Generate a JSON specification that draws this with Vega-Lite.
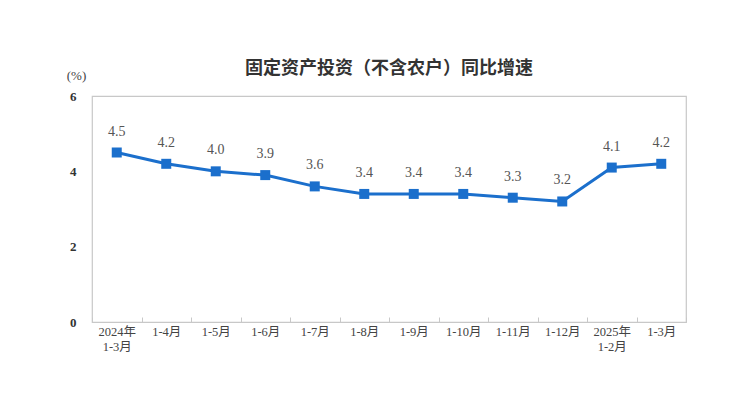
{
  "$schema": "https://vega.github.io/schema/vega-lite/v6.json",
  "autosize": {"type": "none"},
  "width": 594,
  "height": 226,
  "padding": {"left": 92, "top": 96, "right": 61, "bottom": 78},
  "background": "white",
  "config": {
    "view": {"stroke": "#c8c8c8", "strokeWidth": 1.2},
    "font": "Liberation Serif, Noto Sans CJK SC"
  },
  "title": {
    "text": "固定资产投资（不含农户）同比增速",
    "anchor": "middle",
    "frame": "group",
    "font": "Noto Sans CJK SC",
    "fontSize": 18,
    "fontWeight": "bold",
    "color": "#333333",
    "offset": 20,
    "dy": 29
  },
  "data": {
    "values": [
      {"period": "2024年|1-3月", "value": 4.5},
      {"period": "1-4月", "value": 4.2},
      {"period": "1-5月", "value": 4.0},
      {"period": "1-6月", "value": 3.9},
      {"period": "1-7月", "value": 3.6},
      {"period": "1-8月", "value": 3.4},
      {"period": "1-9月", "value": 3.4},
      {"period": "1-10月", "value": 3.4},
      {"period": "1-11月", "value": 3.3},
      {"period": "1-12月", "value": 3.2},
      {"period": "2025年|1-2月", "value": 4.1},
      {"period": "1-3月", "value": 4.2}
    ]
  },
  "encoding": {
    "x": {
      "field": "period",
      "type": "ordinal",
      "sort": null,
      "scale": {"type": "band", "paddingInner": 0, "paddingOuter": 0},
      "axis": {
        "title": null,
        "labelAngle": 0,
        "labelExpr": "isValid(datum.value) ? split(datum.value, '|') : ''",
        "labelFont": "Liberation Serif, Noto Sans CJK SC",
        "labelFontSize": 12.5,
        "labelColor": "#444444",
        "labelPadding": 8,
        "labelLineHeight": 15,
        "domainColor": "#c8c8c8",
        "tickColor": "#c8c8c8",
        "tickBand": "extent",
        "tickSize": -5
      }
    },
    "y": {
      "field": "value",
      "type": "quantitative",
      "scale": {"domain": [0, 6]},
      "axis": {
        "values": [0, 2, 4, 6],
        "grid": false,
        "ticks": false,
        "domain": false,
        "labelFontSize": 13,
        "labelFontWeight": "bold",
        "labelColor": "#333333",
        "labelPadding": 16,
        "title": "(%)",
        "titleAngle": 0,
        "titleX": -16,
        "titleY": -21,
        "titleAlign": "center",
        "titleBaseline": "middle",
        "titleFont": "Liberation Serif, Noto Sans CJK SC",
        "titleFontSize": 13,
        "titleFontWeight": "normal",
        "titleColor": "#444444"
      }
    }
  },
  "layer": [
    {"mark": {"type": "line", "color": "#1b6fcc", "strokeWidth": 3}},
    {"mark": {"type": "square", "color": "#1b6fcc", "size": 100, "opacity": 1, "filled": true}},
    {
      "mark": {"type": "text", "dy": -21, "fontSize": 14, "color": "#555555"},
      "encoding": {"text": {"field": "value", "type": "quantitative", "format": ".1f"}}
    }
  ]
}
